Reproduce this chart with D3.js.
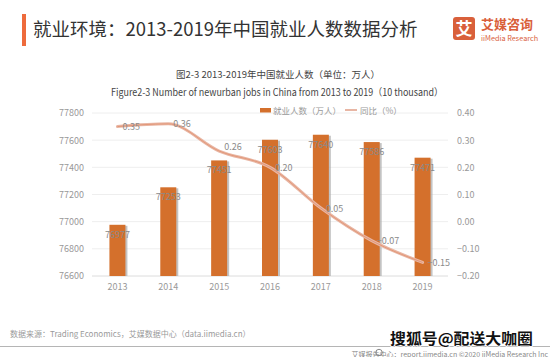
<!DOCTYPE html>
<html><head><meta charset="utf-8">
<script src="https://cdn.jsdelivr.net/npm/d3@7/dist/d3.min.js"></script>
<style>
html,body{margin:0;padding:0;background:#fff;}
svg{display:block;font-family:"Noto Sans CJK SC","Noto Sans",sans-serif;}
</style></head>
<body>
<svg id="c" width="550" height="357"></svg>
<script>
const years = ["2013","2014","2015","2016","2017","2018","2019"];
const employed = [76977, 77253, 77451, 77603, 77640, 77586, 77471];
const yoy = [0.35, 0.36, 0.26, 0.20, 0.05, -0.07, -0.15];
const leftTicks = [76600, 76800, 77000, 77200, 77400, 77600, 77800];
const rightTicks = [-0.20, -0.10, 0.00, 0.10, 0.20, 0.30, 0.40];

const svg = d3.select("#c");
const FONT = '"Noto Sans CJK SC","Noto Sans",sans-serif';
const ORANGE = "#D4702C";

// Header
svg.append("rect").attr("x",22).attr("y",14).attr("width",4).attr("height",32).attr("fill","#EE6B3C");
svg.append("text").attr("x",33).attr("y",36).attr("font-size",18.5).attr("fill","#333")
  .text("就业环境：2013-2019年中国就业人数数据分析");
// Logo
svg.append("rect").attr("x",453).attr("y",17).attr("width",22).attr("height",23).attr("rx",3).attr("fill","#D9603B");
svg.append("text").attr("x",464).attr("y",35).attr("text-anchor","middle").attr("font-size",17).attr("font-weight","bold").attr("fill","#fff").text("艾");
svg.append("text").attr("x",481).attr("y",28.5).attr("font-size",13).attr("font-weight","bold").attr("fill","#D9603B").text("艾媒咨询");
svg.append("text").attr("x",481).attr("y",41).attr("font-size",7.3).attr("fill","#D9603B").text("iiMedia Research");

// Chart titles
svg.append("text").attr("x",278).attr("y",78).attr("text-anchor","middle").attr("font-size",9.5).attr("fill","#444")
  .text("图2-3 2013-2019年中国就业人数（单位：万人）");
svg.append("text").attr("x",111).attr("y",96).attr("font-size",10).attr("fill","#444")
  .attr("textLength",332).attr("lengthAdjust","spacingAndGlyphs")
  .text("Figure2-3 Number of newurban jobs in China from 2013 to 2019（10 thousand）");

// Scales
const x = d3.scaleBand().domain(years).range([92,448]).padding(0);
const yL = d3.scaleLinear().domain([76600,77800]).range([276,113]);
const yR = d3.scaleLinear().domain([-0.2,0.4]).range([276,113]);
const cx = d => x(d) + x.bandwidth()/2;
const bw = 16;

// Gridlines
svg.append("g").selectAll("line").data(leftTicks).join("line")
  .attr("x1",92).attr("x2",448).attr("y1",d=>yL(d)).attr("y2",d=>yL(d))
  .attr("stroke",d=>d===76600?"#dcdcdc":"#eeeeee").attr("stroke-width",1);

// Axes (labels only)
const gL = svg.append("g").attr("transform","translate(92,0)")
  .call(d3.axisLeft(yL).tickValues(leftTicks).tickSize(0).tickPadding(8).tickFormat(d3.format("d")));
const gR = svg.append("g").attr("transform","translate(448,0)")
  .call(d3.axisRight(yR).tickValues(rightTicks).tickSize(0).tickPadding(9).tickFormat(d3.format(".2f")));
const gX = svg.append("g").attr("transform","translate(0,276)")
  .call(d3.axisBottom(x).tickSize(0).tickPadding(8));
[gL,gR,gX].forEach(g=>{
  g.select(".domain").remove();
  g.selectAll("text").attr("font-size",9).attr("fill","#999").attr("font-family",FONT);
});

// Bars with shadow
const bars = svg.append("g");
bars.selectAll("rect.sh").data(years).join("rect").attr("class","sh")
  .attr("x",(d)=>cx(d)-bw/2+2).attr("y",(d,i)=>yL(employed[i])+1)
  .attr("width",bw).attr("height",(d,i)=>276-yL(employed[i])-1)
  .attr("fill","#aaa").attr("opacity",0.7);
bars.selectAll("rect.b").data(years).join("rect").attr("class","b")
  .attr("x",(d)=>cx(d)-bw/2).attr("y",(d,i)=>yL(employed[i]))
  .attr("width",bw).attr("height",(d,i)=>276-yL(employed[i]))
  .attr("fill",ORANGE);

// Line
const pts = years.map((d,i)=>[cx(d), yR(yoy[i])]);
const line = d3.line().curve(d3.curveMonotoneX);
svg.append("path").attr("d",line(pts)).attr("fill","none").attr("stroke","#E8B6A4").attr("stroke-width",3).attr("stroke-linecap","round");
svg.append("path").attr("d",line(pts)).attr("fill","none").attr("stroke","#E0865E").attr("stroke-width",0.8).attr("opacity",0.8);

// Bar labels
svg.append("g").selectAll("text").data(years).join("text")
  .attr("x",d=>cx(d)).attr("y",(d,i)=>yL(employed[i])+13)
  .attr("text-anchor","middle").attr("font-size",9).attr("fill","#8a8a8a")
  .text((d,i)=>employed[i]);

// Line labels
svg.append("g").selectAll("text").data(years).join("text")
  .attr("x",d=>cx(d)+5).attr("y",(d,i)=>yR(yoy[i]) + (i===2?-1:3.5))
  .attr("font-size",9).attr("fill","#8a8a8a")
  .text((d,i)=>d3.format(".2f")(yoy[i]));

// Legend
svg.append("rect").attr("x",260).attr("y",108).attr("width",11).attr("height",4.5).attr("fill",ORANGE);
svg.append("text").attr("x",273).attr("y",113.5).attr("font-size",8.5).attr("fill","#999").text("就业人数（万人）");
svg.append("line").attr("x1",345).attr("x2",357).attr("y1",110).attr("y2",110).attr("stroke","#E8B6A4").attr("stroke-width",2);
svg.append("text").attr("x",360).attr("y",113.5).attr("font-size",8.5).attr("fill","#999").text("同比（%）");

// Footer
svg.append("text").attr("x",10).attr("y",337).attr("font-size",8).attr("fill","#9a9a9a")
  .text("数据来源：Trading Economics，艾媒数据中心（data.iimedia.cn）");
svg.append("line").attr("x1",0).attr("x2",550).attr("y1",346.5).attr("y2",346.5).attr("stroke","#b5b5b5").attr("stroke-width",1);
svg.append("circle").attr("cx",379).attr("cy",352.5).attr("r",3.2).attr("fill","none").attr("stroke","#888").attr("stroke-width",1);
svg.append("text").attr("x",548).attr("y",356.5).attr("text-anchor","end").attr("font-size",7).attr("fill","#888")
  .text("艾媒报告中心：report.iimedia.cn  ©2020  iiMedia Research  Inc");
// Watermark
svg.append("text").attr("x",390).attr("y",343.5).attr("font-size",14.5).attr("font-weight","bold")
  .attr("fill","#111").attr("stroke","#fff").attr("stroke-width",1.5).attr("paint-order","stroke")
  .attr("textLength",143).attr("lengthAdjust","spacingAndGlyphs")
  .text("搜狐号@配送大咖圈");
</script>
</body></html>
